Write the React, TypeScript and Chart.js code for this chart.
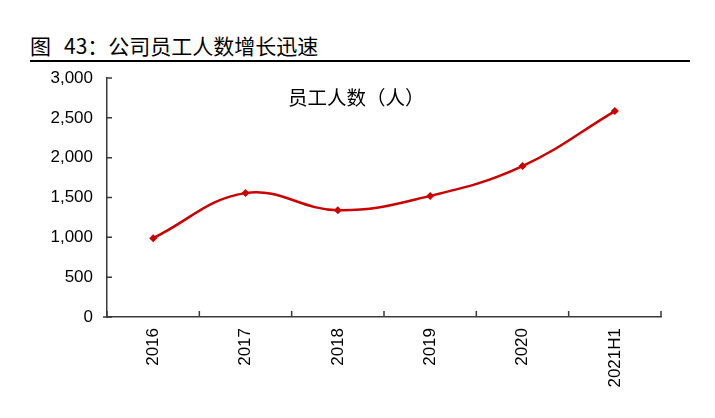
import { useEffect, useRef } from 'react'
import { Chart, registerables } from 'chart.js'

Chart.register(...registerables)

const categories = ['2016', '2017', '2018', '2019', '2020', '2021H1']
const employees = [990, 1555, 1340, 1520, 1895, 2585]
const yTicks = [0, 500, 1000, 1500, 2000, 2500, 3000]

const seriesName = '员工人数（人）'
const figLabel = '图'
const title = '43：公司员工人数增长迅速'

const axisColor = '#3a3a3a'
const lineRed = '#cc0000'
const font = '"Liberation Sans", Arial, sans-serif'
const cjkFont = '"Noto Sans CJK SC", "Liberation Sans", sans-serif'

// inward tick marks like the Excel original
const innerTicks = {
  id: 'innerTicks',
  afterDraw(chart: any) {
    const { ctx, scales } = chart
    const x = scales.x
    const y = scales.y
    ctx.save()
    ctx.strokeStyle = axisColor
    ctx.lineWidth = 1.5
    ctx.beginPath()
    yTicks.forEach((v) => {
      const py = y.getPixelForValue(v)
      ctx.moveTo(x.left, py)
      ctx.lineTo(x.left + 5, py)
    })
    for (let i = 0; i <= categories.length; i++) {
      const px = x.getPixelForValue(i - 0.5)
      ctx.moveTo(px, y.bottom)
      ctx.lineTo(px, y.bottom - 6)
    }
    // small stub left of the origin
    ctx.moveTo(x.left - 4, y.bottom)
    ctx.lineTo(x.left, y.bottom)
    ctx.stroke()
    ctx.restore()
  },
}

export default function App() {
  const canvasRef = useRef<HTMLCanvasElement>(null)

  useEffect(() => {
    document.body.style.margin = '0'
    if (!canvasRef.current) return
    const chart = new Chart(canvasRef.current, {
      type: 'line',
      data: {
        labels: categories,
        datasets: [
          {
            label: seriesName,
            data: employees,
            borderColor: lineRed,
            backgroundColor: lineRed,
            borderWidth: 2.5,
            tension: 0.4,
            pointStyle: 'rectRot',
            pointRadius: 4,
            pointBorderWidth: 0,
          },
        ],
      },
      options: {
        animation: false,
        responsive: false,
        maintainAspectRatio: false,
        devicePixelRatio: 1,
        layout: { padding: { left: 0, top: 78, right: 54, bottom: 0 } },
        plugins: {
          legend: { display: false },
          tooltip: { enabled: false },
        },
        scales: {
          x: {
            offset: true,
            grid: { display: false, drawTicks: false },
            border: { display: true, color: axisColor, width: 1.5 },
            ticks: {
              color: '#000',
              font: { family: font, size: 17 },
              minRotation: 90,
              maxRotation: 90,
              padding: 11,
            },
            afterFit: (s: any) => {
              s.height = 101
            },
          },
          y: {
            min: 0,
            max: 3000,
            grid: { display: false, drawTicks: false },
            border: { display: true, color: axisColor, width: 1.5 },
            afterBuildTicks: (s: any) => {
              s.ticks = yTicks.map((v) => ({ value: v }))
            },
            ticks: {
              color: '#000',
              font: { family: font, size: 17 },
              padding: 14,
              callback: (v: any) => Number(v).toLocaleString('en-US'),
            },
            afterFit: (s: any) => {
              s.width = 107
            },
          },
        },
      },
      plugins: [innerTicks],
    })
    return () => chart.destroy()
  }, [])

  return (
    <div style={{ position: 'relative', width: 715, height: 418, background: '#fff', fontFamily: font }}>
      <div
        style={{
          position: 'absolute',
          left: 30,
          top: 32,
          fontSize: 21,
          color: '#000',
          whiteSpace: 'pre',
          fontFamily: cjkFont,
          lineHeight: '26px',
        }}
      >
        {figLabel}
        <span style={{ marginLeft: 13 }}>{title}</span>
      </div>
      <div style={{ position: 'absolute', left: 30, top: 60, width: 660, height: 2, background: '#000' }} />
      <canvas ref={canvasRef} width={715} height={418} style={{ position: 'absolute', left: 0, top: 0 }} />
      <div
        style={{
          position: 'absolute',
          left: 288,
          top: 84,
          fontSize: 19.5,
          color: '#000',
          fontFamily: cjkFont,
          lineHeight: '26px',
        }}
      >
        {seriesName}
      </div>
    </div>
  )
}
